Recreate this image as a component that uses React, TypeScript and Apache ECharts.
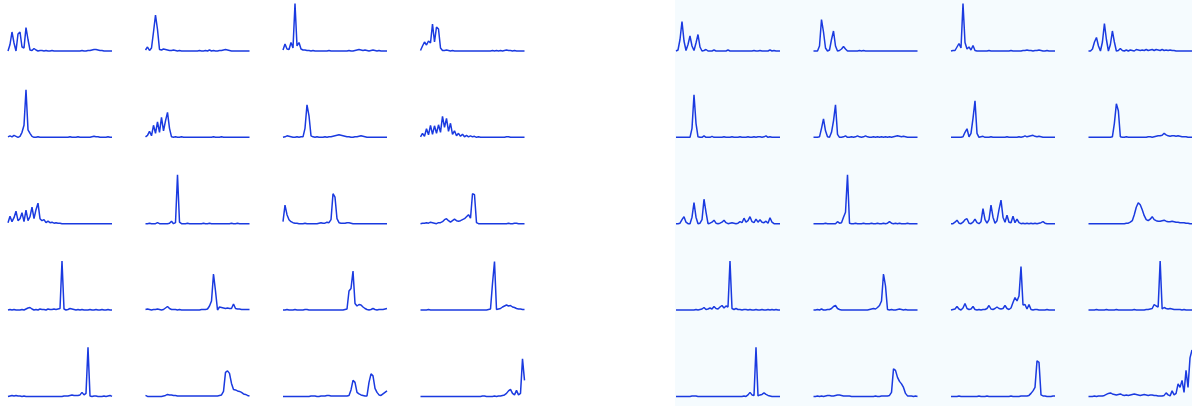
import React, { useEffect, useRef } from "react";
import * as echarts from "echarts";

// Left block (white background), row-major order, values in % of panel height
const L1 = [2,15,40,18,2,36,40,10,8,49, 25,4,3,7,4,2,3,3,2,3, 2,2,3,2,2,2,2,2,2,2, 2,2,2,2,2,2,2,3,2,2, 3,3,4,5,5,4,3,3,2,2, 2,2,2];
const L2 = [4,10,3,8,40,74,45,5,4,6, 5,4,3,3,4,3,2,3,2,2, 2,2,2,2,2,2,2,3,2,2, 3,2,4,2,3,2,2,3,3,4, 5,4,3,2,2,2,2,2,2,2, 2,2,2];
const L3 = [4,16,6,5,19,8,97,12,19,6, 4,4,3,3,2,3,2,2,2,2, 2,2,2,3,2,2,2,2,2,2, 2,2,2,3,2,2,3,4,5,4, 3,4,3,2,3,4,3,2,3,2, 2,2,2];
const L4 = [3,12,20,14,22,18,56,20,50,46, 8,3,3,4,3,2,3,2,2,2, 2,2,2,2,2,2,2,2,2,2, 2,2,2,2,2,2,3,2,3,2, 3,2,3,4,3,3,2,3,2,2, 2,2,2];
const L5 = [3,5,3,6,4,2,4,12,26,97, 17,10,4,2,2,3,2,2,2,2, 2,2,2,2,2,2,2,2,2,2, 2,3,2,2,2,3,2,2,2,2, 2,2,3,4,3,3,2,2,2,2, 3,2,2];
const L6 = [3,6,14,5,26,10,33,12,42,15, 35,52,20,3,2,3,2,2,3,2, 2,2,2,2,2,2,2,2,2,2, 2,2,2,2,3,2,2,2,3,2, 2,2,2,2,2,2,2,2,2,2, 2,2,2];
const L7 = [2,3,5,4,3,2,2,3,2,3, 3,20,67,45,5,3,2,3,2,2, 2,3,2,3,3,4,5,6,7,6, 5,4,3,3,2,2,3,3,4,5, 4,3,2,2,2,2,2,2,2,2, 2,2,2];
const L8 = [3,10,4,19,7,26,8,25,10,27, 12,44,22,40,14,30,8,15,5,10, 4,8,3,6,3,5,3,4,2,3, 2,2,2,2,2,2,2,2,2,2, 2,2,2,3,3,2,2,2,2,2, 2,2,2];
const L9 = [4,17,6,14,27,8,12,24,6,29, 8,16,35,12,30,43,12,8,10,4, 7,4,5,3,4,3,3,2,2,2, 2,2,2,2,2,2,2,2,2,2, 2,2,2,2,2,2,2,2,2,2, 2,2,2];
const L10 = [2,2,3,2,2,2,4,2,2,2, 2,2,3,7,2,4,100,5,2,2, 2,3,2,2,2,2,2,2,2,3, 2,2,3,2,2,2,2,2,2,2, 2,2,2,3,2,2,3,2,2,2, 2,2,2];
const L11 = [6,39,20,10,6,4,3,3,2,2, 2,3,2,2,2,2,2,2,3,4, 3,3,5,4,10,62,55,12,4,3, 3,3,4,4,3,2,2,2,2,2, 2,2,2,2,2,2,2,2,2,2, 2,2,2];
const L12 = [2,3,3,4,3,5,4,3,2,4, 4,6,10,12,8,5,8,11,8,7, 8,10,12,16,20,13,62,60,4,2, 2,2,2,2,2,2,2,2,2,2, 2,2,2,2,3,2,2,3,3,2, 2,2,2];
const L13 = [2,3,2,3,2,2,2,3,2,4, 6,7,4,2,3,2,4,3,3,2, 4,3,3,4,3,4,5,100,4,2, 3,5,4,3,2,3,2,3,2,2, 2,3,2,2,3,2,2,3,2,2, 3,2,2];
const L14 = [3,4,3,2,3,3,4,3,2,3, 6,9,5,3,3,3,2,3,2,2, 2,2,2,2,2,2,2,2,3,3, 3,4,10,20,74,40,2,8,7,6, 5,6,5,5,14,5,4,4,3,3, 3,3,3];
const L15 = [2,2,3,2,2,2,3,2,2,2, 2,3,3,2,2,2,2,2,2,2, 2,2,2,2,2,2,2,2,2,2, 2,3,4,40,45,80,15,10,13,12, 8,5,3,2,3,5,3,2,3,3, 3,4,5];
const L16 = [2,2,2,2,3,2,2,2,2,2, 2,2,2,2,2,2,2,2,2,2, 2,2,2,2,2,2,2,2,2,2, 2,2,2,2,3,4,55,99,3,4, 5,8,10,12,10,11,8,7,5,4, 4,3,3];
const L17 = [2,3,4,3,4,3,3,2,3,2, 2,2,2,2,2,2,2,2,2,2, 2,2,2,2,2,2,2,2,3,3, 3,4,5,4,4,4,5,10,5,8, 100,3,2,3,3,2,2,2,3,2, 3,4,2];
const L18 = [4,2,2,2,2,2,2,2,2,3, 4,6,5,5,4,4,3,3,3,3, 3,3,3,3,3,3,3,3,3,3, 3,3,3,3,3,3,3,4,5,12, 50,53,48,28,16,15,13,12,10,7, 6,4,3];
const L19 = [2,2,2,2,2,2,2,2,2,2, 2,2,2,2,3,3,3,2,2,3, 3,3,4,4,3,3,3,3,3,3, 3,3,3,4,15,34,30,10,7,5, 4,3,3,30,47,43,18,10,5,4, 7,10,13];
const L20 = [2,2,2,2,2,2,2,2,2,2, 2,2,2,2,2,2,2,2,2,2, 2,2,2,2,2,2,2,2,2,2, 2,3,3,2,2,2,2,3,2,3, 3,4,5,8,13,16,8,5,14,5, 8,77,34];

// Right block (light-blue background)
const R1 = [2,4,25,61,22,3,15,32,12,3, 18,35,10,2,3,5,2,2,2,4, 2,2,2,2,2,2,4,2,2,2, 2,2,2,2,2,2,2,2,2,3, 2,2,3,2,2,2,2,4,2,3, 2,2,2];
const R2 = [2,2,2,12,65,40,8,2,4,25, 42,12,2,3,6,11,6,2,2,2, 2,2,2,3,2,3,2,2,2,2, 2,2,2,2,2,2,2,2,2,2, 2,2,2,2,2,2,2,2,2,2, 2,2,2];
const R3 = [2,3,3,10,17,8,97,19,6,10, 4,13,3,2,2,2,2,2,2,3, 2,2,2,2,2,2,2,2,2,2, 3,2,2,2,2,2,3,3,4,3, 3,2,3,3,4,3,2,2,3,2, 2,2,2];
const R4 = [2,2,6,20,29,12,2,20,57,25, 2,15,42,20,2,3,7,3,2,4, 2,4,3,2,5,4,3,4,3,5, 3,4,5,3,5,4,3,5,3,4, 3,4,3,3,2,2,2,2,2,2, 2,2,2];
const R5 = [2,2,2,2,2,2,2,2,20,87, 30,3,2,2,5,2,2,2,4,2, 2,2,2,2,3,2,2,2,3,2, 2,2,3,2,2,2,3,2,2,3, 2,3,3,2,3,5,2,3,2,2, 2,2,2];
const R6 = [2,2,2,3,20,39,15,3,2,12, 35,67,8,2,2,3,5,2,2,3, 2,3,5,3,2,3,5,3,2,2, 3,2,3,2,3,2,3,2,3,2, 3,4,5,4,3,4,3,2,2,2, 2,2,2];
const R7 = [2,2,2,2,2,2,3,12,19,3, 10,40,75,10,2,3,4,2,2,2, 3,2,2,2,2,2,2,2,3,2, 2,2,2,2,3,2,3,5,3,4, 5,6,4,3,4,3,2,2,2,2, 2,2,2];
const R8 = [2,2,2,2,2,2,2,2,2,2, 2,2,3,30,69,55,3,2,2,3, 2,2,2,2,2,2,2,2,2,2, 3,3,2,3,4,5,5,6,10,7, 5,4,5,5,4,5,4,3,3,3, 2,2,2];
const R9 = [2,2,3,10,16,5,2,2,15,44, 15,2,3,10,51,25,2,3,5,9, 3,2,3,5,9,4,2,3,4,3, 2,3,6,4,13,5,8,16,6,4, 11,5,10,5,4,7,3,14,5,2, 2,2,2];
const R10 = [2,2,2,2,2,2,3,2,2,2, 2,2,6,3,4,15,25,100,3,2, 2,3,2,2,2,3,2,2,2,3, 2,2,3,2,2,3,2,3,6,3, 2,3,2,3,2,2,2,3,2,2, 2,2,2];
const R11 = [2,2,5,9,3,2,5,10,12,3, 2,5,11,4,2,6,32,10,3,10, 39,15,3,8,30,49,15,5,19,5, 4,17,4,11,4,2,3,2,3,2, 3,2,3,2,3,4,6,3,2,2, 2,2,2];
const R12 = [2,2,2,2,2,2,2,2,2,2, 2,2,2,2,2,2,2,2,2,3, 3,5,8,20,35,44,40,30,18,10, 8,11,16,10,8,7,7,8,9,7, 6,6,7,6,5,5,4,4,4,3, 3,2,2];
const R13 = [2,2,2,2,2,2,2,2,2,2, 3,2,3,4,7,3,4,6,4,9, 5,4,8,11,6,10,8,100,5,3, 5,3,3,2,3,3,2,3,2,2, 3,2,2,3,2,2,3,2,3,2, 3,2,2];
const R14 = [2,2,3,2,4,2,2,3,3,5, 9,11,5,3,2,2,2,2,2,2, 2,2,2,2,2,2,2,2,3,4, 5,4,7,11,20,74,50,3,2,3, 2,2,3,4,3,2,3,2,2,2, 2,2,2];
const R15 = [2,3,4,9,4,2,6,15,5,3, 4,9,3,2,3,2,3,3,5,11, 4,3,5,8,5,4,5,11,5,3, 6,17,27,20,30,89,12,13,4,13, 3,2,3,3,2,2,2,2,3,2, 2,2,2];
const R16 = [2,2,2,2,3,2,2,2,2,3, 2,2,2,2,3,2,2,2,2,2, 2,2,2,3,2,2,2,2,2,3, 3,4,5,13,10,8,100,4,7,5, 4,5,4,3,3,3,3,2,3,2, 2,2,2];
const R17 = [2,2,2,2,2,2,2,2,3,3, 3,2,2,2,2,2,2,2,2,2, 2,2,2,2,2,2,2,2,2,2, 2,2,2,2,3,2,5,10,5,4, 100,3,5,6,9,6,4,3,2,2, 2,2,2];
const R18 = [2,2,3,2,3,2,3,4,4,3, 3,4,5,5,4,3,3,3,3,2, 2,2,2,2,2,2,2,2,2,2, 2,3,2,2,3,3,3,3,4,10, 57,54,40,32,27,20,8,3,3,3, 2,3,2];
const R19 = [2,2,2,2,3,2,2,2,2,2, 2,2,2,2,3,2,2,2,3,2, 2,2,2,2,2,2,2,2,2,2, 3,2,2,2,2,3,3,3,3,4, 8,13,20,73,70,5,3,3,2,2, 2,3,3];
const R20 = [2,2,2,3,2,3,3,3,4,6, 8,9,7,6,5,6,7,5,4,5, 4,5,6,7,6,5,4,5,6,5, 4,5,5,4,4,3,3,3,4,9, 5,3,13,5,8,27,20,34,10,54, 20,79,95];

const leftPanels = [L1, L2, L3, L4, L5, L6, L7, L8, L9, L10, L11, L12, L13, L14, L15, L16, L17, L18, L19, L20];
const rightPanels = [R1, R2, R3, R4, R5, R6, R7, R8, R9, R10, R11, R12, R13, R14, R15, R16, R17, R18, R19, R20];

const LINE_COLOR = "#1a3ae0";
const COL_X = [8, 145.5, 283, 420.5, 676, 813.5, 951, 1088.5];
const ROW_BASE = [51, 137.3, 223.7, 310, 396.4];
const PANEL_W = 104;
const PANEL_H = 50;

export default function App() {
  const ref = useRef<HTMLDivElement>(null);

  useEffect(() => {
    if (!ref.current) return;
    const chart = echarts.init(ref.current, null, { renderer: "svg" });
    const grids: any[] = [];
    const xAxes: any[] = [];
    const yAxes: any[] = [];
    const series: any[] = [];

    const addPanel = (data: number[], col: number, row: number) => {
      const idx = grids.length;
      grids.push({
        left: COL_X[col],
        top: ROW_BASE[row] + 1 - PANEL_H,
        width: PANEL_W,
        height: PANEL_H,
        show: false,
      });
      xAxes.push({ type: "value", gridIndex: idx, min: 0, max: 52, show: false });
      yAxes.push({ type: "value", gridIndex: idx, min: 0, max: 100, show: false });
      series.push({
        type: "line",
        xAxisIndex: idx,
        yAxisIndex: idx,
        data: data.map((v, i) => [i, v]),
        showSymbol: false,
        symbol: "none",
        clip: false,
        silent: true,
        lineStyle: { width: 1.5, color: LINE_COLOR },
        itemStyle: { color: LINE_COLOR },
      });
    };

    leftPanels.forEach((d, k) => addPanel(d, k % 4, Math.floor(k / 4)));
    rightPanels.forEach((d, k) => addPanel(d, 4 + (k % 4), Math.floor(k / 4)));

    chart.setOption({
      animation: false,
      backgroundColor: "transparent",
      grid: grids,
      xAxis: xAxes,
      yAxis: yAxes,
      series,
      tooltip: { show: false },
    });

    return () => {
      chart.dispose();
    };
  }, []);

  return (
    <div
      ref={ref}
      style={{
        position: "absolute",
        left: 0,
        top: 0,
        width: 1192,
        height: 406,
        background:
          "linear-gradient(to right, #ffffff 0px, #ffffff 675px, #f5fbfe 675px, #f5fbfe 100%)",
      }}
    />
  );
}
